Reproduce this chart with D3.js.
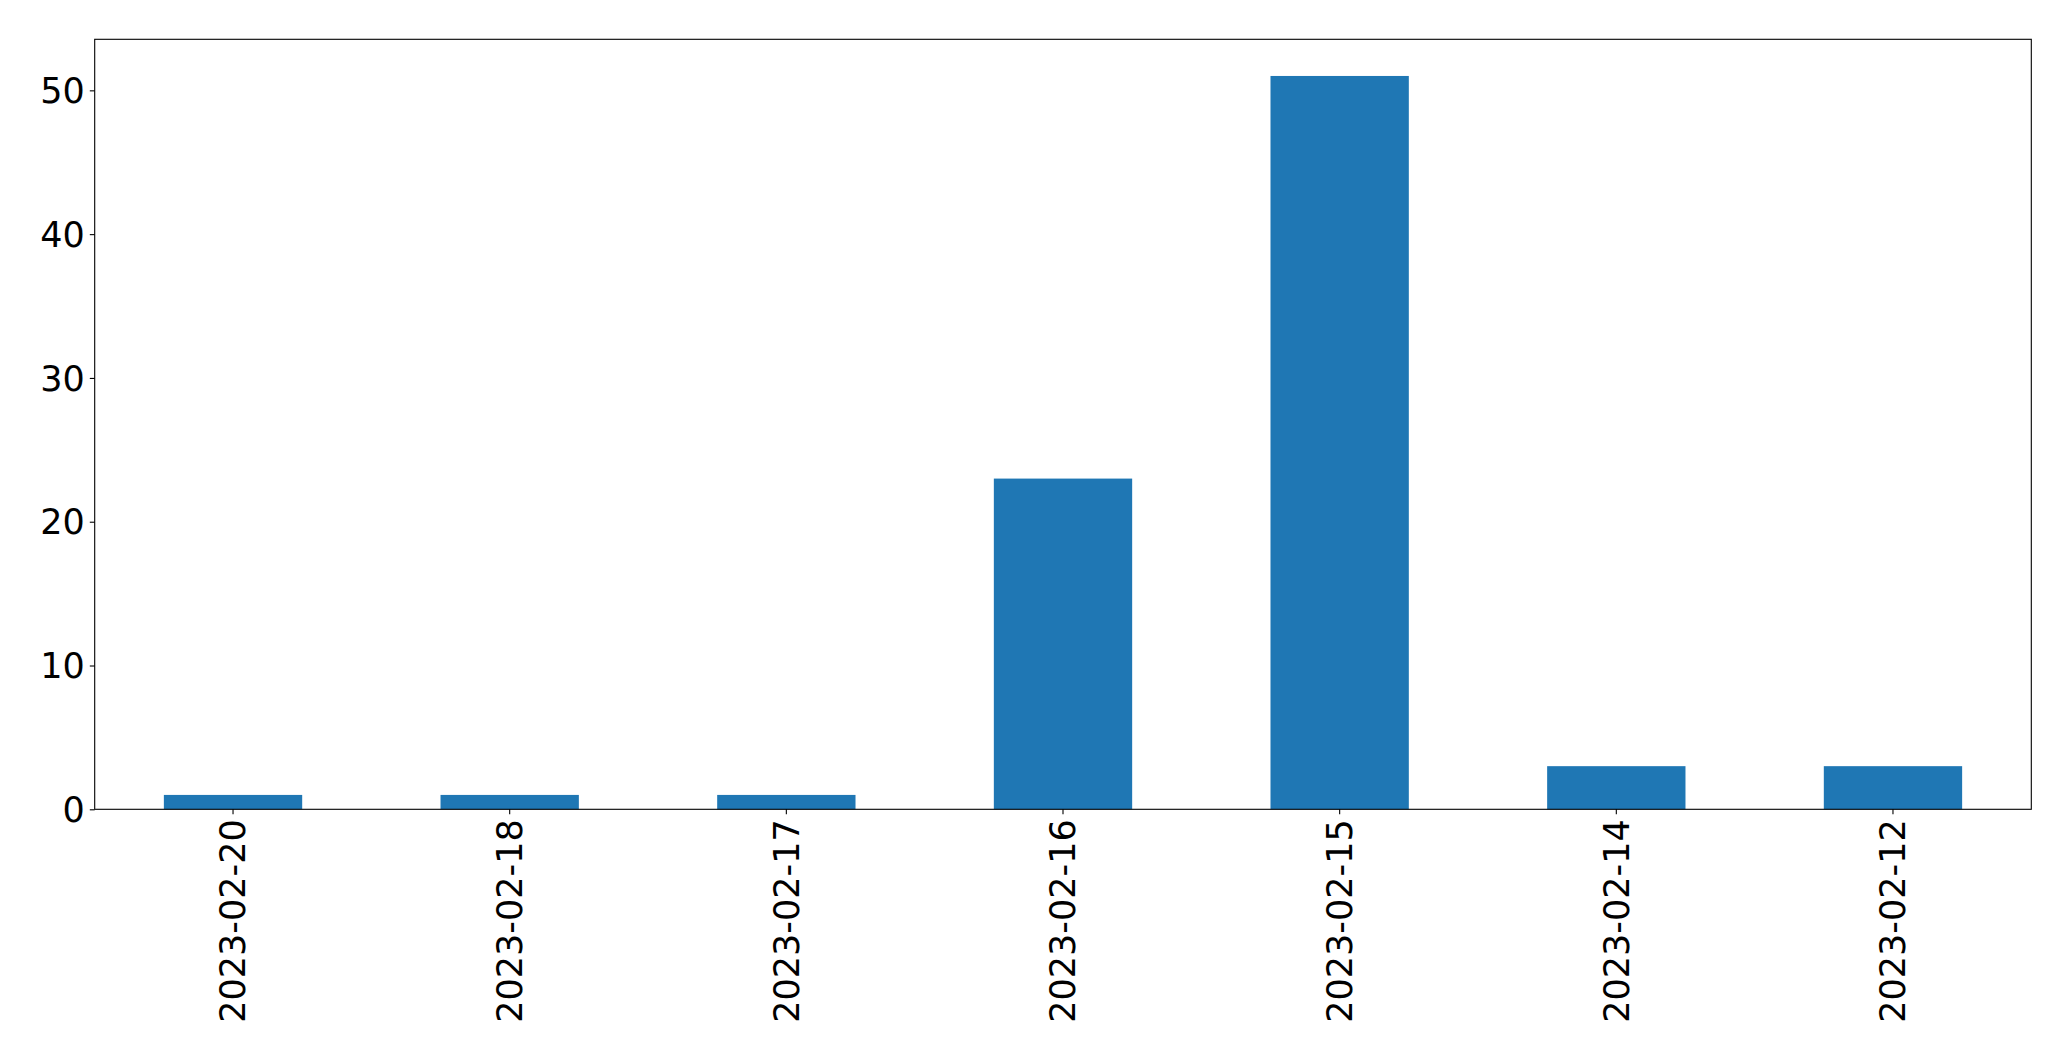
<!DOCTYPE html>
<html>
<head>
<meta charset="utf-8">
<script src="https://cdn.jsdelivr.net/npm/d3@7"></script>
<style>
  html, body { margin: 0; padding: 0; background: #fff; }
  svg { display: block; }
  text { font-family: "DejaVu Sans", sans-serif; fill: #000; }
</style>
</head>
<body>
<svg id="chart" width="2071" height="1061"></svg>
<script>
const categories = ["2023-02-20", "2023-02-18", "2023-02-17", "2023-02-16", "2023-02-15", "2023-02-14", "2023-02-12"];
const values = [1, 1, 1, 23, 51, 3, 3];
const yTicks = [0, 10, 20, 30, 40, 50];

const W = 2071, H = 1061;
const m = { left: 94.7, right: W - 2031.3, top: 39.3, bottom: H - 809.3 };
const svg = d3.select("#chart");
const iw = W - m.left - m.right, ih = H - m.top - m.bottom;
const g = svg.append("g").attr("transform", `translate(${m.left},${m.top})`);

const x = d3.scaleBand().domain(categories).range([0, iw]).paddingInner(0.5).paddingOuter(0.25);
const y = d3.scaleLinear().domain([0, d3.max(values) * 1.05]).range([ih, 0]);

g.selectAll("rect.bar").data(values).enter().append("rect")
  .attr("class", "bar")
  .attr("x", (d, i) => x(categories[i]))
  .attr("width", x.bandwidth())
  .attr("y", d => y(d))
  .attr("height", d => y(0) - y(d))
  .attr("fill", "#1f77b4");

const fs = 35;
const xAxis = g.append("g").attr("transform", `translate(0,${ih})`)
  .call(d3.axisBottom(x).tickSize(4.9).tickPadding(4.9));
xAxis.select(".domain").remove();
xAxis.selectAll(".tick line").attr("stroke", "#000").attr("stroke-width", 1.1);
xAxis.selectAll(".tick text")
  .attr("font-size", fs)
  .attr("font-family", "DejaVu Sans")
  .attr("fill", "#000")
  .attr("transform", "rotate(-90)")
  .attr("text-anchor", "end")
  .attr("x", -10)
  .attr("y", 0)
  .attr("dy", "0.35em");

const yAxis = g.append("g")
  .call(d3.axisLeft(y).tickValues(yTicks).tickSize(4.9).tickPadding(4.9).tickFormat(d3.format("d")));
yAxis.select(".domain").remove();
yAxis.selectAll(".tick line").attr("stroke", "#000").attr("stroke-width", 1.1);
yAxis.selectAll(".tick text")
  .attr("font-size", fs)
  .attr("font-family", "DejaVu Sans")
  .attr("fill", "#000")
  .attr("dy", "0.35em");

g.append("rect").attr("x", 0).attr("y", 0).attr("width", iw).attr("height", ih)
  .attr("fill", "none").attr("stroke", "#000").attr("stroke-width", 1.1);
</script>
</body>
</html>
